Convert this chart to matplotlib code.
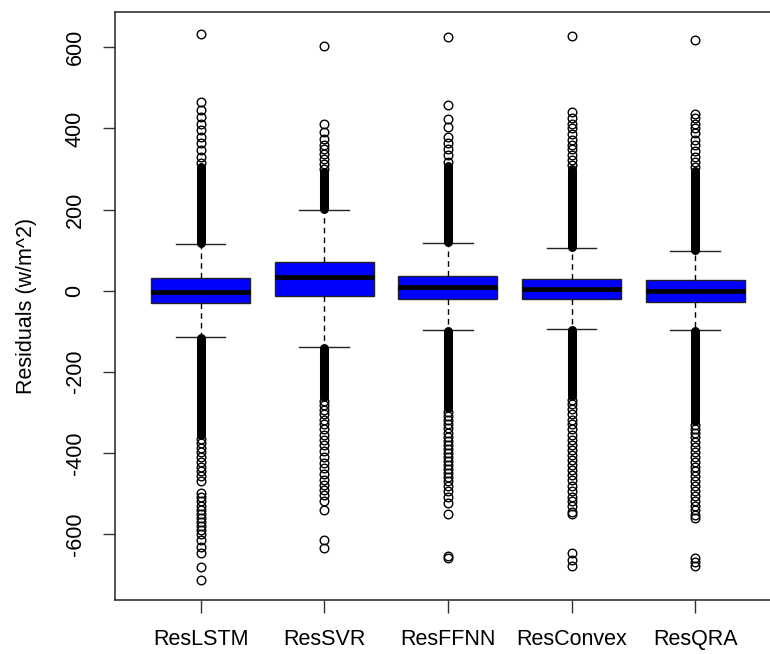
import matplotlib
matplotlib.use("Agg")
import matplotlib.pyplot as plt

plt.rcParams['font.family'] = ['Liberation Sans', 'DejaVu Sans']

# Residual summaries per model (w/m^2)
names = ["ResLSTM", "ResSVR", "ResFFNN", "ResConvex", "ResQRA"]
q1 = [-30, -13, -20, -20, -27]
med = [-3, 34, 8, 4, -2]
q3 = [31, 71, 35, 29, 25]
whis_lo = [-114, -139, -98, -94, -98]
whis_hi = [115, 199, 118, 104, 97]

# Ranges where outliers pile up so thickly they merge into a solid column
dense_hi_from = [118, 202, 121, 107, 100]
dense_hi_to = [306, 292, 308, 300, 294]
dense_lo_from = [-117, -142, -100, -96, -100]
dense_lo_to = [-356, -262, -290, -260, -322]

# Individual outliers above the dense column
out_hi_lstm = [315, 330, 347, 364, 379, 396, 411, 428, 445, 466, 633]
out_hi_svr = [300, 312, 324, 336, 348, 360, 374, 392, 411, 602]
out_hi_ffnn = [318, 335, 350, 365, 380, 404, 423, 458, 626]
out_hi_convex = [310, 322, 335, 348, 360, 372, 385, 400, 412, 425, 440, 628]
out_hi_qra = [305, 318, 330, 345, 358, 372, 388, 400, 412, 425, 436, 617]

# Individual outliers below the dense column
out_lo_lstm = [-366, -376, -387, -398, -410, -422, -434, -446, -458, -470, -500,
               -510, -520, -530, -540, -550, -560, -570, -580, -590, -600, -615,
               -632, -648, -682, -713]
out_lo_svr = [-272, -283, -294, -305, -318, -330, -342, -355, -368, -380, -395,
              -410, -425, -438, -452, -466, -480, -492, -505, -520, -540, -615, -635]
out_lo_ffnn = [-300, -310, -320, -330, -340, -350, -360, -370, -380, -390, -400,
               -410, -420, -430, -440, -450, -460, -470, -482, -495, -508, -525,
               -550, -655, -660]
out_lo_convex = [-270, -280, -292, -305, -318, -330, -342, -355, -368, -380, -392,
                 -405, -418, -430, -442, -455, -468, -482, -495, -508, -520, -532,
                 -545, -552, -648, -665, -680]
out_lo_qra = [-332, -342, -352, -362, -374, -386, -398, -410, -422, -434, -446,
              -458, -470, -482, -494, -506, -518, -530, -542, -553, -560, -660,
              -670, -680]

outliers = [out_hi_lstm + out_lo_lstm,
            out_hi_svr + out_lo_svr,
            out_hi_ffnn + out_lo_ffnn,
            out_hi_convex + out_lo_convex,
            out_hi_qra + out_lo_qra]

positions = list(range(1, 6))

stats = []
for i, name in enumerate(names):
    stats.append({
        "label": name,
        "q1": q1[i], "med": med[i], "q3": q3[i],
        "whislo": whis_lo[i], "whishi": whis_hi[i],
        "fliers": outliers[i],
    })

fig = plt.figure(figsize=(7.7, 6.54), dpi=100)
ax = fig.add_axes([0.149, 0.0826, 0.851, 0.899])

ax.bxp(stats, positions=positions, widths=0.8, patch_artist=True,
       boxprops=dict(facecolor="#0000ff", edgecolor="#222222", linewidth=1.0),
       medianprops=dict(color="black", linewidth=3.4, solid_capstyle="butt"),
       whiskerprops=dict(color="black", linewidth=1.0, linestyle=(0, (4, 3))),
       capprops=dict(color="#222222", linewidth=1.0),
       capwidths=0.4,
       flierprops=dict(marker="o", markerfacecolor="none", markeredgecolor="black",
                       markersize=6.2, markeredgewidth=1.0, linestyle="none"))

# solid outlier columns
for i, x in enumerate(positions):
    ax.plot([x, x], [dense_hi_from[i], dense_hi_to[i]], color="black",
            linewidth=6.5, solid_capstyle="round", zorder=3)
    ax.plot([x, x], [dense_lo_from[i], dense_lo_to[i]], color="black",
            linewidth=6.5, solid_capstyle="round", zorder=3)

ax.set_xlim(0.306, 5.605)
ax.set_ylim(-763, 687)
ax.set_yticks([-600, -400, -200, 0, 200, 400, 600])
ax.set_yticklabels(["-600", "-400", "-200", "0", "200", "400", "600"],
                   rotation=90, va="center")
ax.set_xticks(positions)
ax.set_xticklabels(names)
ax.tick_params(axis="both", labelsize=15.5, length=9, width=1.0, color="#333333")
ax.tick_params(axis="y", pad=12)
ax.tick_params(axis="x", pad=12)
ax.set_ylabel("Residuals (w/m^2)", fontsize=15.5, labelpad=20)

for side in ["left", "bottom", "top"]:
    ax.spines[side].set_linewidth(1.2)
    ax.spines[side].set_color("#333333")
ax.spines["right"].set_visible(False)

fig.savefig("out.png", dpi=100)
